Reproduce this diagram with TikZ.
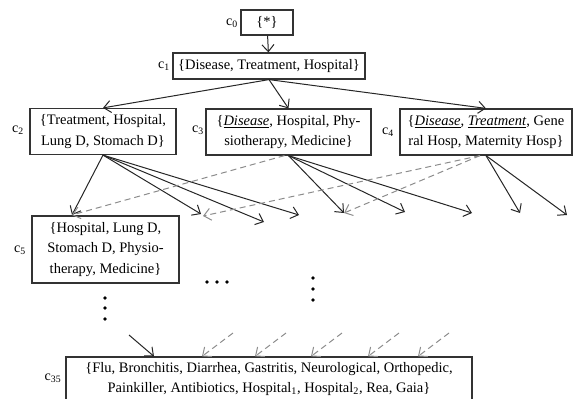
\documentclass[tikz,border=0pt]{standalone}
\usepackage{fontspec}
\setmainfont{Liberation Serif}
\usetikzlibrary{arrows.meta}
\tikzset{
  setbox/.style={draw=black!80, line width=1.2pt, inner sep=0pt, align=center,
    font=\fontsize{14.5}{20.5}\selectfont},
  lbl/.style={inner sep=0pt, font=\fontsize{14}{14}\selectfont},
  edge/.style={draw=black!85, line width=1pt, -{Straight Barb[length=7pt,width=12pt,line width=1pt]}},
  weak/.style={draw=black!45, line width=1pt, dash pattern=on 6pt off 4pt,
    -{Straight Barb[length=7pt,width=12pt,line width=1pt]}},
}
\newcommand{\ul}[1]{\underline{\textit{#1}}}
\begin{document}
\begin{tikzpicture}[x=1pt,y=-1pt]
\useasboundingbox (0,0) rectangle (574,399);

% lattice nodes
\node[setbox, minimum width=52pt, minimum height=25pt] (c0) at (267,22.5) {\{*\}};
\node[setbox, minimum width=192pt, minimum height=26pt] (c1) at (269,66) {\{Disease, Treatment, Hospital\}};
\node[setbox, minimum width=146pt, minimum height=46pt] (c2) at (103,131.5)
  {\{Treatment, Hospital,\\ Lung D, Stomach D\}};
\node[setbox, minimum width=165pt, minimum height=46pt] (c3) at (288.5,132)
  {\{\ul{Disease}, Hospital, Phy-\\ siotherapy, Medicine\}};
\node[setbox, minimum width=172pt, minimum height=46pt] (c4) at (486,132)
  {\{\ul{Disease}, \ul{Treatment}, Gene\\ ral Hosp, Maternity Hosp\}};
\node[setbox, minimum width=147pt, minimum height=67pt] (c5) at (105.5,249.5)
  {\{Hospital, Lung D,\\ Stomach D, Physio-\\ therapy, Medicine\}};
\node[setbox, minimum width=406pt, minimum height=44pt] (c35) at (269,379)
  {\{Flu, Bronchitis, Diarrhea, Gastritis, Neurological, Orthopedic,\\
   Painkiller, Antibiotics, Hospital\textsubscript{1}, Hospital\textsubscript{2}, Rea, Gaia\}};

% concept labels
\node[lbl] (l0) at (232,23) {c\textsubscript{0}};
\node[lbl] (l1) at (164,66) {c\textsubscript{1}};
\node[lbl] (l2) at (18,130) {c\textsubscript{2}};
\node[lbl] (l3) at (198,130) {c\textsubscript{3}};
\node[lbl] (l4) at (388,132) {c\textsubscript{4}};
\node[lbl] (l5) at (20,250) {c\textsubscript{5}};
\node[lbl] (l35) at (53,378) {c\textsubscript{35}};

% free arrow ends
\coordinate (c5in) at (72,215);
\coordinate (a1) at (201,214);
\coordinate (a2) at (264,222);
\coordinate (a3) at (299,215);
\coordinate (b1) at (344,213);
\coordinate (b2) at (405,212);
\coordinate (b3) at (472,213);
\coordinate (d1) at (520,213);
\coordinate (d2) at (567,215);
\coordinate (g1) at (203,216);

% solid edges
\draw[edge] (c0) -- (c1);
\draw[edge] (c1.south) -- (c2.north);
\draw[edge] (c1.south) -- (c3.north);
\draw[edge] (c1.south) -- (c4.north);
\draw[edge] (c2.south) -- (c5in);
\draw[edge] (c2.south) -- (a1);
\draw[edge] (c2.south) -- (a2);
\draw[edge] (c2.south) -- (a3);
\draw[edge] (c3.south) -- (b1);
\draw[edge] (c3.south) -- (b2);
\draw[edge] (c3.south) -- (b3);
\draw[edge] (c4.south) -- (d1);
\draw[edge] (c4.south) -- (d2);

% dashed edges
\draw[weak] ([xshift=-4pt]c3.south) -- (c5in);
\draw[weak] ([xshift=-6pt]c4.south) -- (g1);
\draw[weak] ([xshift=-6pt]c4.south) -- (b1);

% ellipses
\foreach \x in {207,217,227} \fill (\x,282) circle (1.9pt);
\foreach \y in {298,308,319} \fill (105,\y) circle (1.9pt);
\foreach \y in {278,289,300} \fill (313,\y) circle (1.9pt);

% edges into the bottom concept
\coordinate (s0) at (129,335);
\draw[edge] (s0) -- (c35.north -| 154,0);
\foreach \x/\n in {202/1,255/2,311/3,368/4,418/5}{
  \coordinate (w\n) at (\x+31,333);
  \draw[weak] (w\n) -- (c35.north -| \x,0);
}
\end{tikzpicture}
\end{document}
